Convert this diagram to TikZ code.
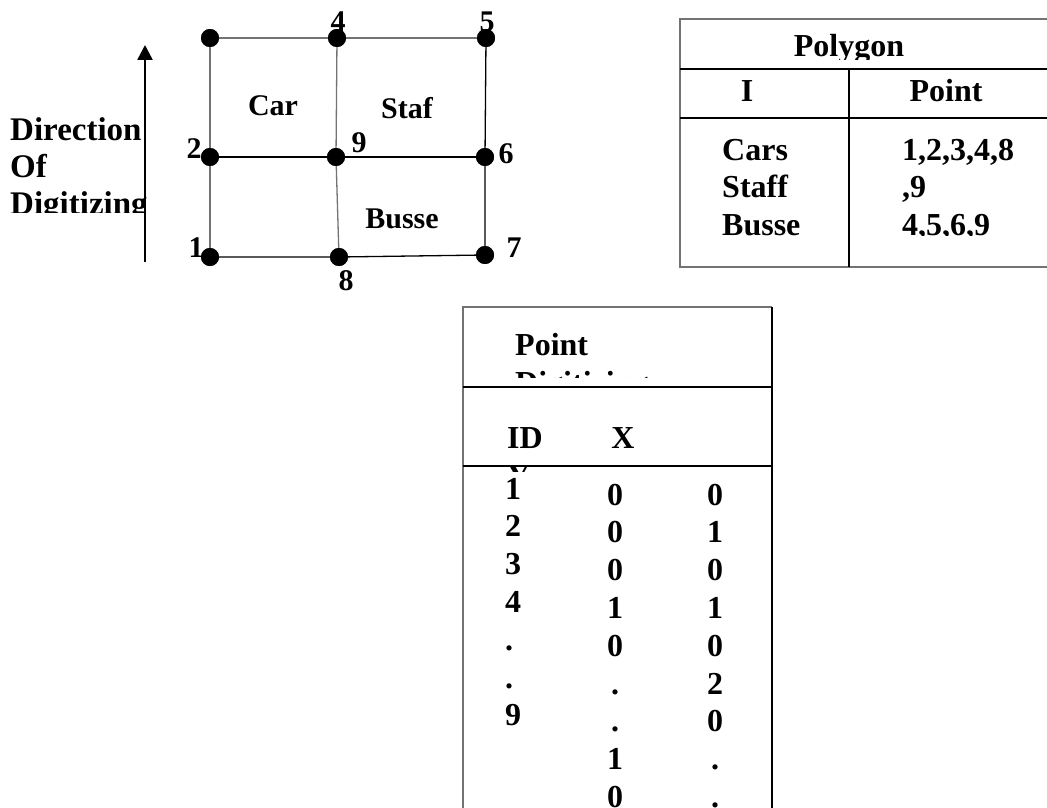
\documentclass[tikz,border=0pt]{standalone}
\usepackage{fontspec}
\setmainfont{Liberation Serif}
\usetikzlibrary{arrows.meta}
\begin{document}
\begin{tikzpicture}[x=1pt,y=-1pt,
  dot/.style={circle,fill=black,inner sep=0pt,minimum size=18pt},
  gridline/.style={line width=1.3pt,draw=black!55},
  gridlinedark/.style={line width=1.3pt,draw=black},
  lbl/.style={inner sep=0pt,anchor=base,font=\fontsize{30}{36}\selectfont\bfseries},
  blbl/.style={inner sep=0pt,anchor=base,font=\fontsize{30}{36}\selectfont\bfseries},
  tb/.style={inner sep=0pt,anchor=base,font=\fontsize{32}{37}\selectfont\bfseries},
  tbl/.style={tb,anchor=base west},
  outer/.style={line width=2pt,draw=black!55},
  inner/.style={line width=1.2pt,draw=black}]
\useasboundingbox (0,0) rectangle (1047,808);

% ---------- direction text and arrow ----------
\begin{scope}
  \clip (0,0) rectangle (300,212);
  \node[tbl,font=\fontsize{33}{38}\selectfont\bfseries] (dir1) at (10,140) {Direction};
  \node[tbl,font=\fontsize{33}{38}\selectfont\bfseries] (dir2) at (10,177) {Of};
  \node[tbl,font=\fontsize{33}{38}\selectfont\bfseries] (dir3) at (10,214) {Digitizing};
\end{scope}
\coordinate (arrS) at (145,262);
\coordinate (arrT) at (145,45);
\draw[line width=2.5pt,-{Triangle[length=15pt,width=15pt]}] (arrS) -- (arrT);

% ---------- grid ----------
\node[dot] (p3) at (210,38) {};
\node[dot] (p4) at (337,38) {};
\node[dot] (p5) at (486,38) {};
\node[dot] (p2) at (210,157) {};
\node[dot] (p9) at (336,157) {};
\node[dot] (p6) at (485,157) {};
\node[dot] (p1) at (210,257) {};
\node[dot] (p8) at (339,257) {};
\node[dot] (p7) at (485,255) {};

\draw[gridline] (p3.center) -- (p4.center) -- (p5.center);
\draw[gridline] (p3.center) -- (p2.center) -- (p1.center);
\draw[gridline] (p4.center) -- (p9.center) -- (p8.center);
\draw[gridlinedark] (p5.center) -- (p6.center) -- (p7.center);
\draw[gridlinedark] (p2.center) -- (p9.center) -- (p6.center);
\draw[gridlinedark] (p1.center) -- (p8.center) -- (p7.center);
\foreach \p in {p1,p2,p3,p4,p5,p6,p7,p8,p9} \node[dot] at (\p) {};

\node[lbl] (l4) at (338,32) {4};
\node[lbl] (l5) at (487,32) {5};
\node[lbl] (l2) at (194,158) {2};
\node[lbl] (l1) at (196,257) {1};
\node[lbl] (l9) at (359,152) {9};
\node[lbl] (l6) at (506,163) {6};
\node[lbl] (l7) at (514,257) {7};
\node[lbl] (l8) at (346,290) {8};
\node[blbl] (car) at (273,115) {Car};
\node[blbl] (staf) at (407,118) {Staf};
\node[blbl] (busse) at (402,228) {Busse};

% ---------- polygon table ----------
\draw[outer] (1047,19) -- (680,19) -- (680,267) -- (1047,267);
\draw[inner] (680,69) -- (1047,69);
\draw[inner] (680,118) -- (1047,118);
\draw[inner] (849,69) -- (849,267);
\begin{scope}
  \clip (680,19) rectangle (1047,60);
  \node[tb] (polyh) at (849,57) {Polygon};
\end{scope}
\node[tb] (colI) at (747,102) {I};
\node[tb] (colP) at (946,102) {Point};
\begin{scope}
  \clip (680,118) rectangle (1047,235);
  \node[tbl] (cars) at (722,160) {Cars};
  \node[tbl] (staff) at (722,197) {Staff};
  \node[tbl] (bus) at (722,235) {Busse};
  \node[tbl] (pa) at (902,160) {1,2,3,4,8};
  \node[tbl] (pb) at (902,197) {,9};
  \node[tbl] (pc) at (902,235) {4,5,6,9};
\end{scope}

% ---------- point table ----------
\draw[outer] (463,808) -- (463,307) -- (772,307);
\draw[inner] (772,307) -- (772,808);
\draw[inner] (463,387) -- (772,387);
\draw[inner] (463,466) -- (772,466);
\begin{scope}
  \clip (463,307) rectangle (772,377);
  \node[tbl] (ptA) at (515,355) {Point};
  \node[tbl] (ptB) at (515,393) {Digitizing};
\end{scope}
\node[tbl] (id) at (507,448) {ID};
\node[tb] (xh) at (623,448) {X};
\begin{scope}
  \clip (463,387) rectangle (772,471);
  \node[tbl] (yh) at (507,486) {Y};
\end{scope}
\begin{scope}
  \clip (463,472) rectangle (772,808);
  \foreach \t [count=\i] in {1,2,3,4,.,.,9}
    \node[tbl] (c1r\i) at (505,{499+37.8*(\i-1)}) {\t};
  \foreach \t [count=\i] in {0,0,0,1,0,.,.,1,0}
    \node[tb] (c2r\i) at (615,{505+37.8*(\i-1)}) {\t};
  \foreach \t [count=\i] in {0,1,0,1,0,2,0,.,.}
    \node[tb] (c3r\i) at (715,{505+37.8*(\i-1)}) {\t};
\end{scope}
\end{tikzpicture}
\end{document}
